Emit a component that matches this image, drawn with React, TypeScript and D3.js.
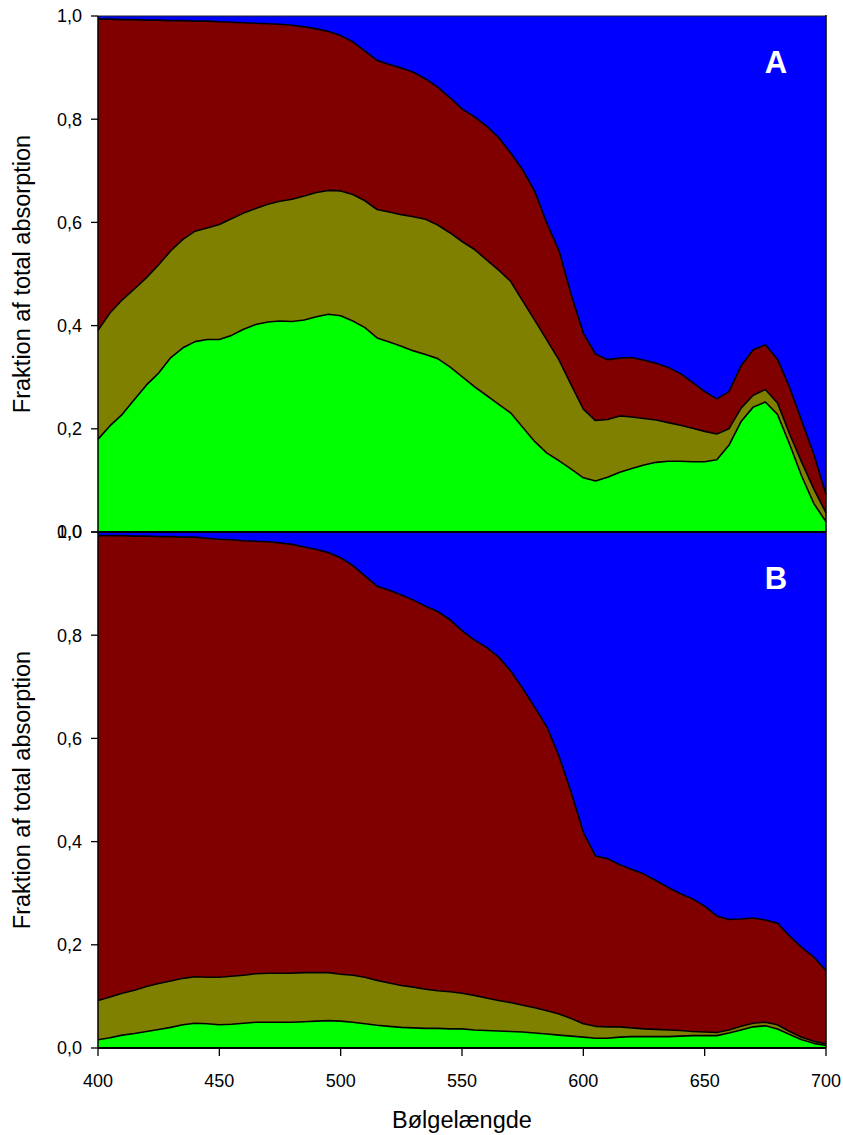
import React from "react";
import * as d3 from "d3";

const wavelengths = [
  400, 405, 410, 415, 420, 425, 430, 435, 440, 445, 450, 455, 460, 465, 470, 475, 480, 485, 490, 495,
  500, 505, 510, 515, 520, 525, 530, 535, 540, 545, 550, 555, 560, 565, 570, 575, 580, 585, 590, 595,
  600, 605, 610, 615, 620, 625, 630, 635, 640, 645, 650, 655, 660, 665, 670, 675, 680, 685, 690, 695, 700,
];

// Panel A cumulative boundaries (top of each stacked layer)
const aGreenTop = [
  0.180, 0.206, 0.228, 0.257, 0.285, 0.308, 0.338, 0.357, 0.369, 0.373, 0.373, 0.381, 0.393, 0.402, 0.407, 0.409, 0.408, 0.411, 0.417, 0.422,
  0.419, 0.409, 0.396, 0.376, 0.368, 0.360, 0.351, 0.344, 0.336, 0.320, 0.301, 0.282, 0.265, 0.248, 0.231, 0.203, 0.175, 0.153, 0.138, 0.122,
  0.105, 0.099, 0.106, 0.116, 0.123, 0.130, 0.135, 0.137, 0.137, 0.136, 0.136, 0.140, 0.168, 0.214, 0.242, 0.252, 0.228, 0.170, 0.108, 0.055, 0.020,
];
const aOliveTop = [
  0.391, 0.425, 0.450, 0.471, 0.493, 0.518, 0.545, 0.567, 0.583, 0.589, 0.596, 0.607, 0.618, 0.627, 0.635, 0.641, 0.645, 0.651, 0.658, 0.662,
  0.661, 0.654, 0.642, 0.625, 0.620, 0.615, 0.611, 0.606, 0.595, 0.580, 0.563, 0.548, 0.528, 0.508, 0.486, 0.448, 0.410, 0.372, 0.333, 0.285,
  0.238, 0.216, 0.218, 0.225, 0.223, 0.220, 0.217, 0.212, 0.207, 0.201, 0.195, 0.190, 0.200, 0.240, 0.265, 0.276, 0.250, 0.190, 0.135, 0.083, 0.037,
];
const aRedTop = [
  0.994, 0.994, 0.993, 0.993, 0.992, 0.992, 0.991, 0.991, 0.990, 0.990, 0.989, 0.988, 0.987, 0.986, 0.985, 0.984, 0.982, 0.979, 0.975, 0.970,
  0.962, 0.950, 0.932, 0.914, 0.906, 0.899, 0.891, 0.878, 0.862, 0.842, 0.820, 0.805, 0.787, 0.765, 0.735, 0.702, 0.660, 0.598, 0.545, 0.460,
  0.385, 0.345, 0.334, 0.337, 0.338, 0.333, 0.327, 0.319, 0.307, 0.290, 0.272, 0.258, 0.272, 0.322, 0.353, 0.363, 0.335, 0.280, 0.215, 0.150, 0.072,
];

// Panel B cumulative boundaries
const bGreenTop = [
  0.016, 0.020, 0.025, 0.028, 0.032, 0.036, 0.040, 0.045, 0.048, 0.047, 0.045, 0.046, 0.048, 0.050, 0.050, 0.050, 0.050, 0.051, 0.052, 0.053,
  0.052, 0.050, 0.047, 0.044, 0.042, 0.040, 0.039, 0.038, 0.038, 0.037, 0.037, 0.035, 0.034, 0.033, 0.032, 0.031, 0.029, 0.027, 0.025, 0.023,
  0.021, 0.019, 0.019, 0.021, 0.022, 0.022, 0.022, 0.022, 0.023, 0.024, 0.024, 0.024, 0.029, 0.035, 0.041, 0.043, 0.037, 0.026, 0.016, 0.009, 0.005,
];
const bOliveTop = [
  0.092, 0.099, 0.106, 0.112, 0.119, 0.125, 0.130, 0.135, 0.138, 0.137, 0.137, 0.139, 0.141, 0.144, 0.145, 0.145, 0.145, 0.146, 0.146, 0.146,
  0.143, 0.141, 0.137, 0.131, 0.126, 0.121, 0.118, 0.114, 0.111, 0.109, 0.106, 0.102, 0.097, 0.092, 0.088, 0.083, 0.078, 0.072, 0.066, 0.057,
  0.047, 0.042, 0.041, 0.041, 0.039, 0.037, 0.036, 0.035, 0.034, 0.032, 0.031, 0.030, 0.035, 0.042, 0.048, 0.050, 0.045, 0.032, 0.021, 0.013, 0.008,
];
const bRedTop = [
  0.993, 0.993, 0.993, 0.992, 0.992, 0.991, 0.991, 0.990, 0.990, 0.988, 0.986, 0.985, 0.983, 0.982, 0.981, 0.979, 0.976, 0.971, 0.966, 0.960,
  0.950, 0.935, 0.915, 0.895, 0.887, 0.878, 0.868, 0.856, 0.846, 0.830, 0.809, 0.791, 0.777, 0.758, 0.731, 0.697, 0.660, 0.622, 0.565, 0.495,
  0.418, 0.372, 0.367, 0.355, 0.346, 0.337, 0.324, 0.311, 0.299, 0.289, 0.275, 0.256, 0.249, 0.250, 0.252, 0.248, 0.242, 0.217, 0.195, 0.176, 0.150,
];

const yTicks = [0, 0.2, 0.4, 0.6, 0.8, 1.0];
const xTicks = [400, 450, 500, 550, 600, 650, 700];
const panelLabels = ["A", "B"];
const yTitle = "Fraktion af total absorption";
const xTitle = "Bølgelængde";

const COLORS = { green: "#00ff00", olive: "#808000", red: "#800000", blue: "#0000ff" };
const FONT = "Arial, 'Liberation Sans', Helvetica, sans-serif";

const LEFT = 98;
const RIGHT = 826;
const PANEL_H = 516;
const TOP_A = 16;

const x = d3.scaleLinear().domain([400, 700]).range([LEFT, RIGHT]);

function Panel({ top, green, olive, red, label, showX }) {
  const y = d3.scaleLinear().domain([0, 1]).range([top + PANEL_H, top]);
  const idx = wavelengths.map((_, i) => i);
  const band = (lo, hi) =>
    d3
      .area()
      .x((i) => x(wavelengths[i]))
      .y0((i) => y(lo(i)))
      .y1((i) => y(hi(i)))(idx);
  const line = (f) =>
    d3
      .line()
      .x((i) => x(wavelengths[i]))
      .y((i) => y(f(i)))(idx);
  const fmt = (v) => v.toFixed(1).replace(".", ",");
  return (
    <g>
      <path d={band((i) => red[i], () => 1)} fill={COLORS.blue} />
      <path d={band((i) => olive[i], (i) => red[i])} fill={COLORS.red} />
      <path d={band((i) => green[i], (i) => olive[i])} fill={COLORS.olive} />
      <path d={band(() => 0, (i) => green[i])} fill={COLORS.green} />
      <path d={line((i) => green[i])} fill="none" stroke="#000" strokeWidth={1.6} strokeLinejoin="round" />
      <path d={line((i) => olive[i])} fill="none" stroke="#000" strokeWidth={1.6} strokeLinejoin="round" />
      <path d={line((i) => red[i])} fill="none" stroke="#000" strokeWidth={1.6} strokeLinejoin="round" />
      {/* frame */}
      <line x1={LEFT} x2={RIGHT} y1={y(1)} y2={y(1)} stroke="#1a2a1a" strokeWidth={1} />
      <line x1={LEFT} x2={RIGHT} y1={y(0)} y2={y(0)} stroke="#000" strokeWidth={2} />
      <line x1={LEFT} x2={LEFT} y1={y(1)} y2={y(0)} stroke="#000" strokeWidth={1.5} />
      <line x1={RIGHT} x2={RIGHT} y1={y(1) - 1} y2={y(0)} stroke="#000" strokeWidth={1.5} />
      {yTicks.map((t) => (
        <g key={t}>
          <line x1={LEFT - 7} x2={LEFT} y1={y(t)} y2={y(t)} stroke="#000" strokeWidth={1.3} />
          <text
            x={LEFT - 16}
            y={y(t)}
            dy="0.36em"
            textAnchor="end"
            fontFamily={FONT}
            fontSize={18}
            fill="#000"
          >
            {fmt(t)}
          </text>
        </g>
      ))}
      {showX &&
        xTicks.map((t) => (
          <g key={t}>
            <line x1={x(t)} x2={x(t)} y1={y(0)} y2={y(0) + 8} stroke="#000" strokeWidth={1.3} />
            <text
              x={x(t)}
              y={y(0) + 39}
              textAnchor="middle"
              fontFamily={FONT}
              fontSize={18}
              fill="#000"
            >
              {t}
            </text>
          </g>
        ))}
      <text
        transform={`translate(30, ${top + PANEL_H / 2}) rotate(-90)`}
        textAnchor="middle"
        fontFamily={FONT}
        fontSize={23.5}
        fill="#000"
      >
        {yTitle}
      </text>
      <text
        x={776}
        y={top + 57}
        textAnchor="middle"
        fontFamily={FONT}
        fontWeight="bold"
        fontSize={31}
        fill="#fff"
      >
        {label}
      </text>
    </g>
  );
}

export default function App() {
  return (
    <svg
      width={843}
      height={1135}
      style={{ position: "absolute", left: 0, top: 0, background: "#fff" }}
    >
      <Panel top={TOP_A + PANEL_H} green={bGreenTop} olive={bOliveTop} red={bRedTop} label={panelLabels[1]} showX={true} />
      <Panel top={TOP_A} green={aGreenTop} olive={aOliveTop} red={aRedTop} label={panelLabels[0]} showX={false} />
      <text
        x={(LEFT + RIGHT) / 2}
        y={1128}
        textAnchor="middle"
        fontFamily={FONT}
        fontSize={23.5}
        fill="#000"
      >
        {xTitle}
      </text>
    </svg>
  );
}
